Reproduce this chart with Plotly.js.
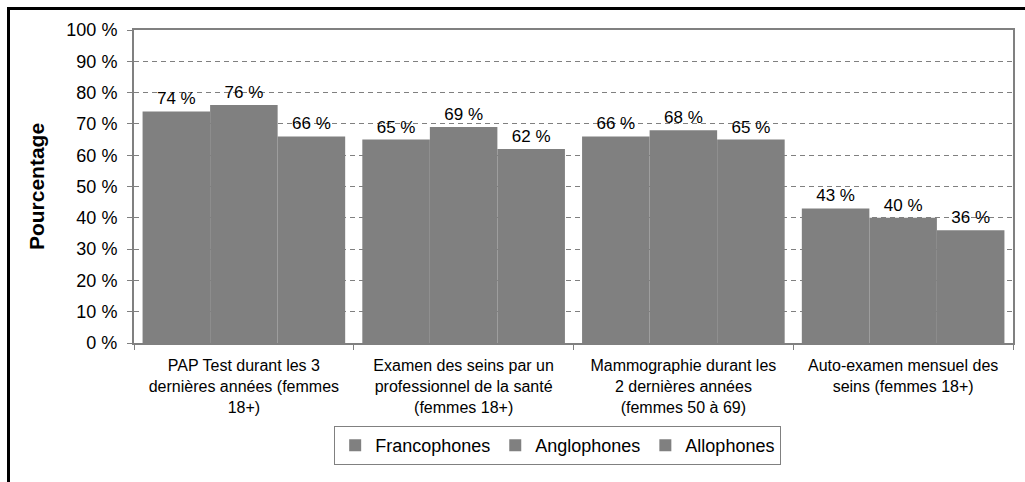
<!DOCTYPE html>
<html>
<head>
<meta charset="utf-8">
<script src="https://cdn.plot.ly/plotly-3.0.1.min.js"></script>
<style>
  html, body { margin: 0; padding: 0; background: #fff; }
  #wrap { position: relative; width: 1025px; height: 482px; overflow: hidden; }
  #chart { position: absolute; left: 0; top: 0; width: 1025px; height: 482px; }
  #frame { position: absolute; left: 7px; top: 7px; width: 1030px; height: 490px;
           border-left: 3px solid #000; border-top: 3px solid #000; pointer-events: none; }
</style>
</head>
<body>
<div id="wrap">
  <div id="chart"></div>
  <div id="frame"></div>
</div>
<script>
const categories = [
  "PAP Test durant les 3<br>dernières années (femmes<br>18+)",
  "Examen des seins par un<br>professionnel de la santé<br>(femmes 18+)",
  "Mammographie durant les<br>2 dernières années<br>(femmes 50 à 69)",
  "Auto-examen mensuel des<br>seins (femmes 18+)"
];
const francophones = [74, 65, 66, 43];
const anglophones = [76, 69, 68, 40];
const allophones = [66, 62, 65, 36];
const seriesNames = ["Francophones", "Anglophones", "Allophones"];

const font = "Liberation Sans, Arial, sans-serif";
const gray = "#808080";

function mk(name, vals) {
  return {
    type: "bar", name: name, x: categories, y: vals,
    marker: { color: gray, line: { width: 0 } },
    text: vals.map(v => v + " %"),
    textposition: "outside",
    cliponaxis: false,
    textfont: { family: font, size: 17, color: "#000" },
    hoverinfo: "skip"
  };
}

const data = [
  mk(seriesNames[0], francophones),
  mk(seriesNames[1], anglophones),
  mk(seriesNames[2], allophones)
];

const layout = {
  width: 1025, height: 482,
  margin: { l: 134, r: 12, t: 30, b: 139 },
  paper_bgcolor: "#fff", plot_bgcolor: "#fff",
  font: { family: font, color: "#000" },
  barmode: "group", bargap: 0.078, bargroupgap: 0,
  showlegend: true,
  legend: {
    orientation: "h", x: 0.482, xanchor: "center", y: -0.265, yanchor: "top",
    bordercolor: gray, borderwidth: 1,
    font: { family: font, size: 18, color: "#000" },
    itemwidth: 30, traceorder: "normal"
  },
  xaxis: {
    type: "category", automargin: false,
    showline: true, linecolor: gray, linewidth: 2, mirror: true,
    ticks: "outside", tickson: "boundaries", ticklen: 5, tickcolor: gray, tickwidth: 1,
    ticklabelstandoff: 7,
    tickfont: { family: font, size: 16, color: "#000" },
    showgrid: false
  },
  yaxis: {
    range: [0, 100], dtick: 10, tick0: 0, automargin: false,
    ticksuffix: " %",
    showline: true, linecolor: gray, linewidth: 2, mirror: true,
    ticks: "outside", ticklen: 5, tickcolor: gray, tickwidth: 1,
    ticklabelstandoff: 6,
    tickfont: { family: font, size: 18, color: "#000" },
    showgrid: true, gridcolor: gray, griddash: "5px,4px", gridwidth: 1,
    zeroline: false,
    title: { text: "<b>Pourcentage</b>", font: { family: font, size: 21, color: "#000" }, standoff: 16 }
  }
};

Plotly.newPlot("chart", data, layout, { displayModeBar: false, staticPlot: true });
</script>
</body>
</html>
